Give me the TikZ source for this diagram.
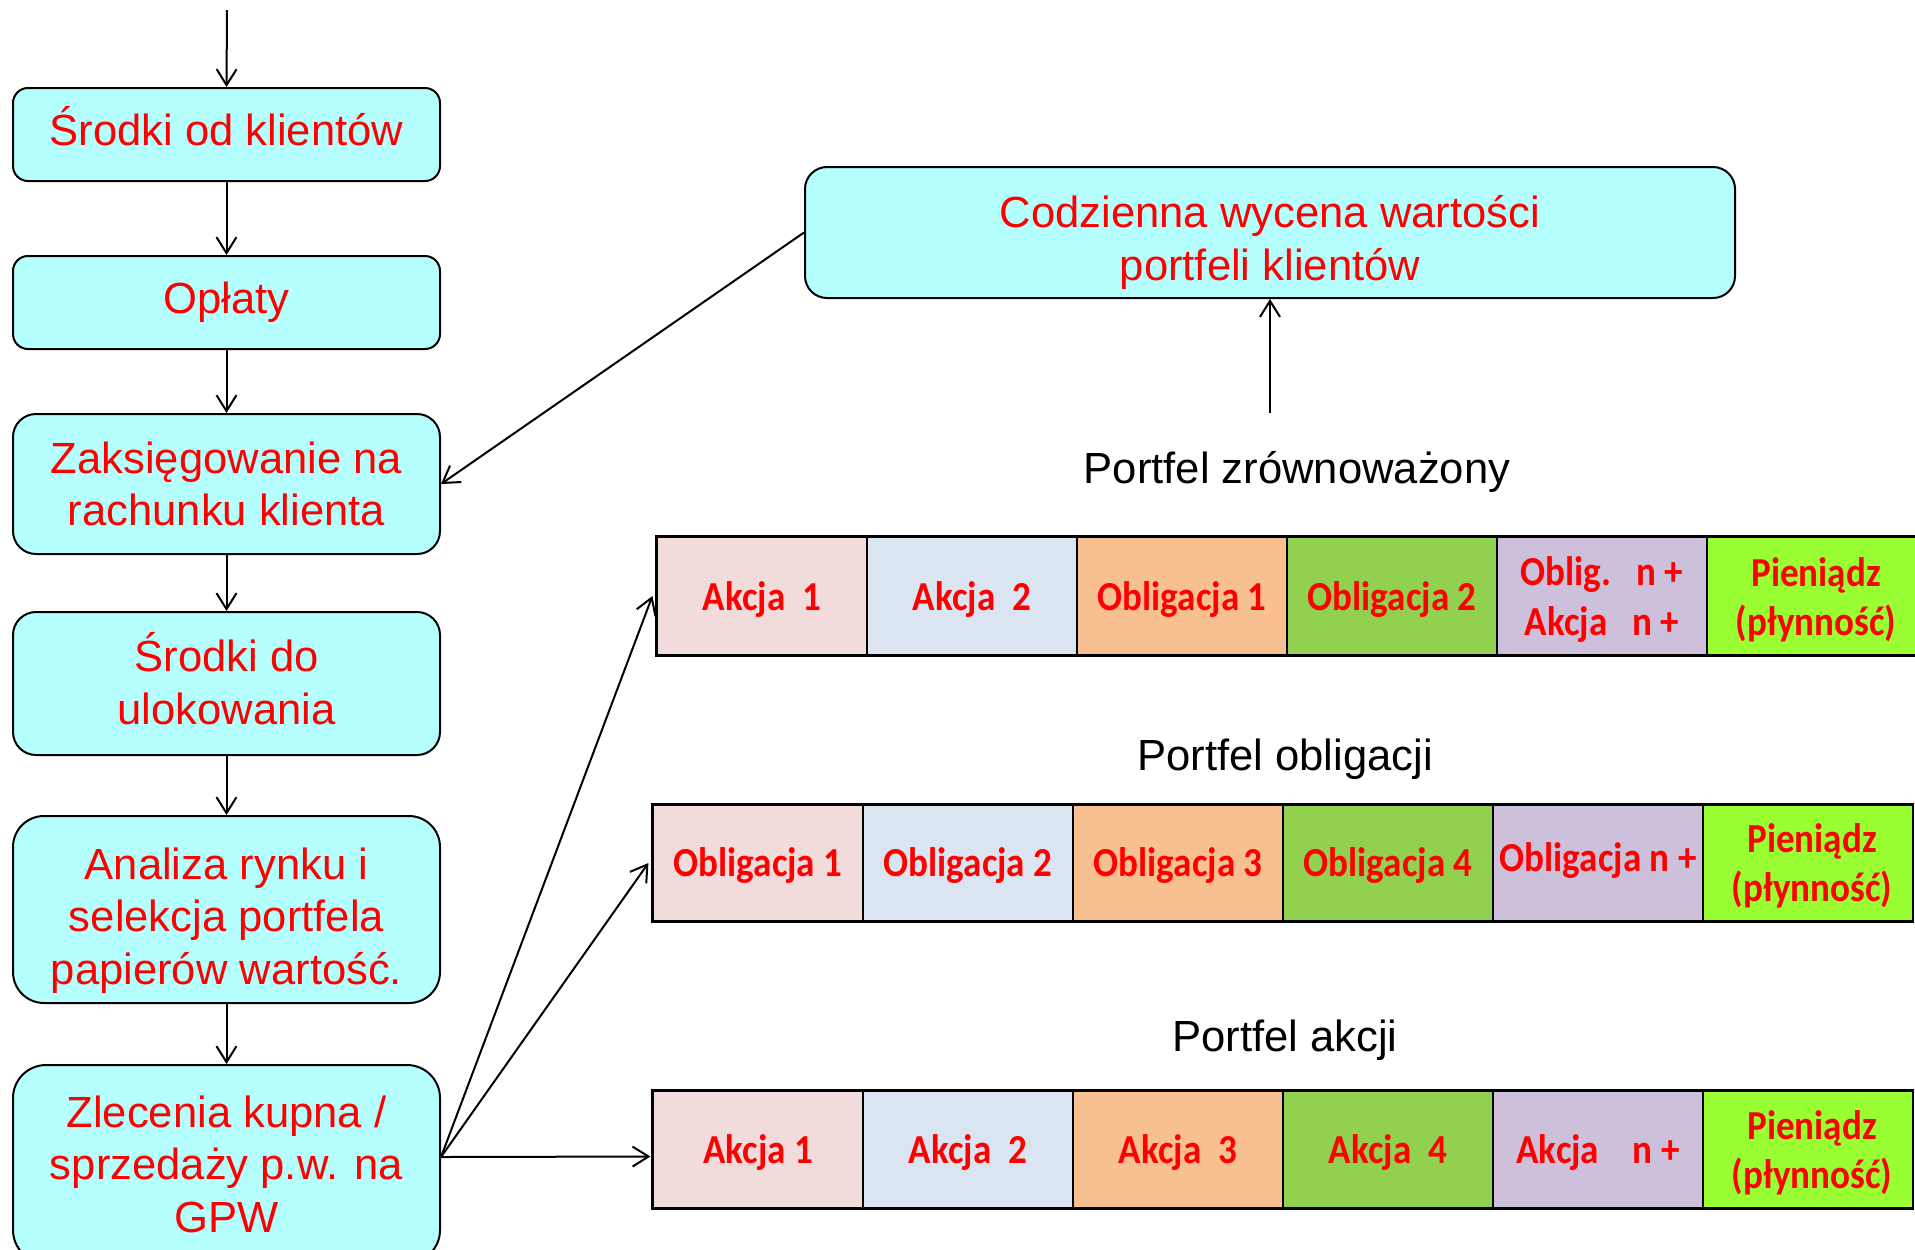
\documentclass[tikz,border=0pt]{standalone}
\usepackage{fontspec}
\setmainfont{Liberation Sans}
\newfontfamily\cellfam[FakeStretch=0.9]{Carlito}
\usetikzlibrary{arrows.meta}
\definecolor{boxfill}{HTML}{B5FFFF}
\definecolor{txtred}{HTML}{FF0000}
\definecolor{cpink}{HTML}{F2DCDB}
\definecolor{cblue}{HTML}{DBE5F1}
\definecolor{corange}{HTML}{F8C090}
\definecolor{cgreen}{HTML}{92D050}
\definecolor{clilac}{HTML}{CCC0DA}
\definecolor{clime}{HTML}{99FF33}
\newcommand\myboxfont{\fontsize{21.8}{26.2}\selectfont}
\newcommand\mycellfont{\cellfam\bfseries\fontsize{20.6}{24.6}\selectfont}
\tikzset{
  flow/.style={draw=black, line width=1pt, fill=boxfill, minimum width=213.5pt, inner sep=0pt},
  btext/.style={text=txtred, align=center, font=\myboxfont, inner sep=0pt},
  cellbox/.style={draw=black, line width=0.6pt, minimum width=105pt, inner sep=0pt},
  ctext/.style={text=txtred, align=center, font=\mycellfont, inner sep=0pt},
  arr/.style={-{Straight Barb[length=8pt,width=10pt]}, line width=1pt},
  rowedge/.style={line width=1.3pt},
  ptitle/.style={font=\myboxfont, text=black, inner sep=0pt}
}
\begin{document}
\begin{tikzpicture}[x=0.5pt,y=-0.5pt]
\useasboundingbox (0,0) rectangle (1915,1249);
\clip (0,0) rectangle (1915,1249);
% left flow
\node[flow, minimum height=46.5pt, rounded corners=7.5pt,
  label={[btext, yshift=4.25pt]center:{Środki od klientów}}] (b1) at (226.5,134.5) {};
\node[flow, minimum height=46.5pt, rounded corners=7.5pt,
  label={[btext]center:{Opłaty}}] (b2) at (226.5,302.5) {};
\node[flow, minimum height=70pt, rounded corners=11.5pt,
  label={[btext]center:{Zaksięgowanie na\\rachunku klienta}}] (b3) at (226.5,484) {};
\node[flow, minimum height=71.5pt, rounded corners=11.5pt,
  label={[btext, yshift=2.5pt]center:{Środki do\\ulokowania}}] (b4) at (226.5,683.5) {};
\node[flow, minimum height=93.5pt, rounded corners=15.5pt,
  label={[btext, yshift=-5.5pt]center:{Analiza rynku i\\selekcja portfela\\papierów wartość.}}] (b5) at (226.5,909.5) {};
\node[flow, minimum height=99pt, rounded corners=16.5pt,
  label={[btext]center:{Zlecenia kupna /\\sprzedaży p.w. na\\GPW}}] (b6) at (226.5,1164) {};
\node[flow, minimum width=465pt, minimum height=65.5pt, rounded corners=11pt,
  label={[btext, yshift=-5pt]center:{Codzienna wycena wartości\\portfeli klientów}}] (cw) at (1270,232.5) {};
\coordinate (top) at (227,10);
\coordinate (up) at (1270,413);
% titles
\node[ptitle] (t1) at (1297,472) {Portfel zrównoważony};
\node[ptitle] (t2) at (1285,759) {Portfel obligacji};
\node[ptitle] (t3) at (1285,1040) {Portfel akcji};
% row 1
\node[cellbox, fill=cpink, minimum height=59pt, label={[ctext, yshift=-1.75pt]center:{Akcja~~1}}] (r1c1) at (762,596) {};
\node[cellbox, fill=cblue, minimum height=59pt, label={[ctext, yshift=-1.75pt]center:{Akcja~~2}}] (r1c2) at (972,596) {};
\node[cellbox, fill=corange, minimum height=59pt, label={[ctext, yshift=-1.75pt]center:{Obligacja 1}}] (r1c3) at (1182,596) {};
\node[cellbox, fill=cgreen, minimum height=59pt, label={[ctext, yshift=-1.75pt]center:{Obligacja 2}}] (r1c4) at (1392,596) {};
\node[cellbox, fill=clilac, minimum height=59pt, label={[ctext, yshift=-1.75pt]center:{Oblig.~~~n +\\Akcja~~~n +}}] (r1c5) at (1602,596) {};
\node[cellbox, fill=clime, minimum height=59pt, label={[ctext, yshift=-1.75pt, xshift=2pt]center:{Pieniądz\\(płynność)}}] (r1c6) at (1812,596) {};
% row 2
\node[cellbox, fill=cpink, minimum height=58pt, label={[ctext, yshift=-1.25pt]center:{Obligacja 1}}] (r2c1) at (758,863) {};
\node[cellbox, fill=cblue, minimum height=58pt, label={[ctext, yshift=-1.25pt]center:{Obligacja 2}}] (r2c2) at (968,863) {};
\node[cellbox, fill=corange, minimum height=58pt, label={[ctext, yshift=-1.25pt]center:{Obligacja 3}}] (r2c3) at (1178,863) {};
\node[cellbox, fill=cgreen, minimum height=58pt, label={[ctext, yshift=-1.25pt]center:{Obligacja 4}}] (r2c4) at (1388,863) {};
\node[cellbox, fill=clilac, minimum height=58pt, label={[ctext, yshift=1.25pt]center:{Obligacja n +}}] (r2c5) at (1598,863) {};
\node[cellbox, fill=clime, minimum height=58pt, label={[ctext, yshift=-1.25pt, xshift=2pt]center:{Pieniądz\\(płynność)}}] (r2c6) at (1808,863) {};
% row 3
\node[cellbox, fill=cpink, minimum height=58.5pt, label={[ctext, yshift=-1.75pt]center:{Akcja 1}}] (r3c1) at (758,1149.5) {};
\node[cellbox, fill=cblue, minimum height=58.5pt, label={[ctext, yshift=-1.75pt]center:{Akcja~~2}}] (r3c2) at (968,1149.5) {};
\node[cellbox, fill=corange, minimum height=58.5pt, label={[ctext, yshift=-1.75pt]center:{Akcja~~3}}] (r3c3) at (1178,1149.5) {};
\node[cellbox, fill=cgreen, minimum height=58.5pt, label={[ctext, yshift=-1.75pt]center:{Akcja~~4}}] (r3c4) at (1388,1149.5) {};
\node[cellbox, fill=clilac, minimum height=58.5pt, label={[ctext, yshift=-1.75pt]center:{Akcja~~~~n +}}] (r3c5) at (1598,1149.5) {};
\node[cellbox, fill=clime, minimum height=58.5pt, label={[ctext, yshift=-1.75pt, xshift=2pt]center:{Pieniądz\\(płynność)}}] (r3c6) at (1808,1149.5) {};
% row outlines
\foreach \r in {1,2,3}{
  \draw[rowedge] (r\r c6.north east) -- (r\r c1.north west) -- (r\r c1.south west) -- (r\r c6.south east);
}
% connectors
\draw[arr] (top) -- (b1.north);
\draw[arr] (b1) -- (b2);
\draw[arr] (b2) -- (b3);
\draw[arr] (b3) -- (b4);
\draw[arr] (b4) -- (b5);
\draw[arr] (b5) -- (b6);
\draw[arr] (cw.west) -- (b3.east);
\draw[arr] (up) -- (cw.south);
\coordinate (b6out) at ([yshift=3.5pt]b6.east);
\draw[arr] (b6out) -- ([xshift=-2pt]r1c1.west);
\draw[arr] (b6out) -- ([xshift=-2pt]r2c1.west);
\draw[arr] (b6out) -- ([xshift=-1pt, yshift=-3.5pt]r3c1.west);
\end{tikzpicture}
\end{document}
